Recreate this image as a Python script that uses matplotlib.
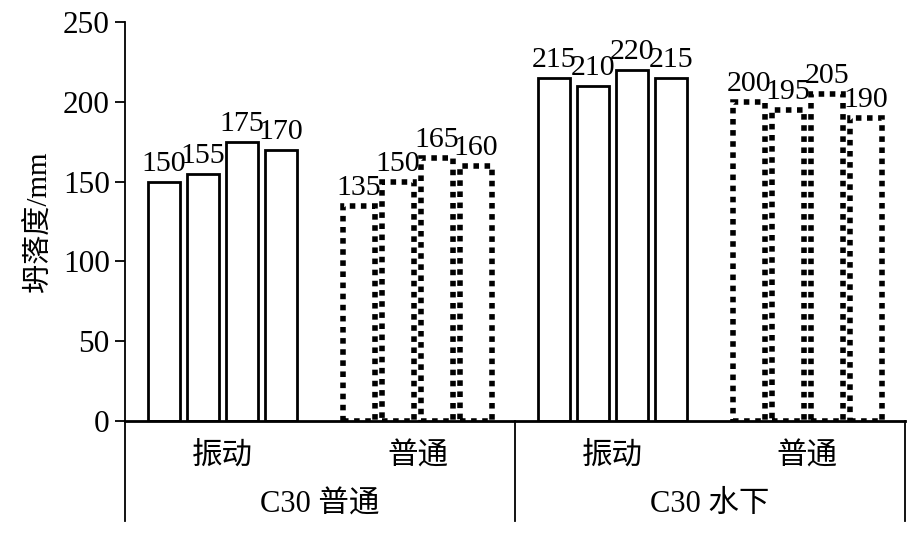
import numpy as np
import matplotlib.pyplot as plt
from matplotlib.lines import Line2D

groups = ['振动', '普通', '振动', '普通']
outer = ['C30 普通', 'C30 水下']
values = [
    [150, 155, 175, 170],
    [135, 150, 165, 160],
    [215, 210, 220, 215],
    [200, 195, 205, 190],
]
dotted = [False, True, False, True]

serif = ['Liberation Serif', 'Noto Sans CJK SC']
plt.rcParams['font.family'] = serif

fig = plt.figure(figsize=(9.1, 5.52), dpi=100)
ax = fig.add_axes([0.1374, 0.2373, 0.857, 0.7228])

slot = 0.2
width = 0.165
for g, vals in enumerate(values):
    for j, v in enumerate(vals):
        x = g + (j - 1.5) * slot
        if dotted[g]:
            ax.bar(x, v, width, facecolor='white', edgecolor='black',
                   linewidth=4, linestyle=(0, (1, 1)), zorder=2)
        else:
            ax.bar(x, v, width, facecolor='white', edgecolor='black',
                   linewidth=2, zorder=2)
        ax.text(x, v + 3, str(v), ha='center', va='bottom', fontsize=21.5)

ax.set_xlim(-0.5, 3.5)
ax.set_ylim(0, 250)
ax.set_yticks(range(0, 251, 50))
ax.tick_params(axis='y', labelsize=22.5, length=7, width=1.3, direction='out', pad=4)
ax.set_xticks([])
for s in ['top', 'right']:
    ax.spines[s].set_visible(False)
ax.spines['left'].set_linewidth(1.3)
ax.spines['bottom'].set_linewidth(2)
ax.set_ylabel('坍落度/mm', fontsize=21, labelpad=8)

# two-level category axis
for xa in [0, 0.5, 1.0]:
    ax.add_line(Line2D([xa, xa], [0, -0.25], transform=ax.transAxes,
                       color='black', linewidth=1.3, clip_on=False))
for g, name in enumerate(groups):
    ax.text((g + 0.5) / 4, -0.09, name, transform=ax.transAxes,
            ha='center', va='center', fontsize=22)
for k, name in enumerate(outer):
    ax.text(0.25 + 0.5 * k, -0.21, name, transform=ax.transAxes,
            ha='center', va='center', fontsize=22)

fig.savefig('out.png', dpi=100)
